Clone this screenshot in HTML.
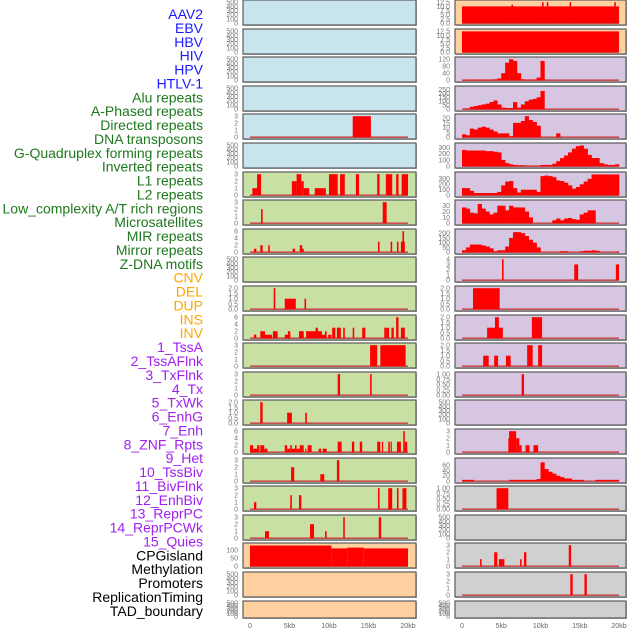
<!DOCTYPE html>
<html><head><meta charset="utf-8"><style>
html,body{margin:0;padding:0;background:#fff;width:630px;height:630px;overflow:hidden}
svg{display:block}
</style></head><body>
<svg id="chart" width="630" height="630" viewBox="0 0 630 630" xmlns="http://www.w3.org/2000/svg" font-family="Liberation Sans, sans-serif"></svg>
<script>
const trackNames = ["AAV2","EBV","HBV","HIV","HPV","HTLV-1","Alu repeats","A-Phased repeats","Directed repeats","DNA transposons","G-Quadruplex forming repeats","Inverted repeats","L1 repeats","L2 repeats","Low_complexity A/T rich regions","Microsatellites","MIR repeats","Mirror repeats","Z-DNA motifs","CNV","DEL","DUP","INS","INV","1_TssA","2_TssAFlnk","3_TxFlnk","4_Tx","5_TxWk","6_EnhG","7_Enh","8_ZNF_Rpts","9_Het","10_TssBiv","11_BivFlnk","12_EnhBiv","13_ReprPC","14_ReprPCWk","15_Quies","CPGisland","Methylation","Promoters","ReplicationTiming","TAD_boundary"];
const trackColors = ["#1a1aff","#1a1aff","#1a1aff","#1a1aff","#1a1aff","#1a1aff","#1e781e","#1e781e","#1e781e","#1e781e","#1e781e","#1e781e","#1e781e","#1e781e","#1e781e","#1e781e","#1e781e","#1e781e","#1e781e","#ffa500","#ffa500","#ffa500","#ffa500","#ffa500","#a020f0","#a020f0","#a020f0","#a020f0","#a020f0","#a020f0","#a020f0","#a020f0","#a020f0","#a020f0","#a020f0","#a020f0","#a020f0","#a020f0","#a020f0","#000","#000","#000","#000","#000"];
const xTickLabels = ["0","5kb","10kb","15kb","20kb"];
const xTickValues = [0,5,10,15,20];

const E = ["0","100","200","300","400","500"];
const T3 = ["0","1","2","3"];
const T6 = ["0","2","4","6"];
const T2 = ["0.0","0.5","1.0","1.5","2.0"];
const T1 = ["0.00","0.25","0.50","0.75","1.00"];
const T12 = ["0.0","2.5","5.0","7.5","10.0","12.5"];

const leftBg = ["#c8e4ec","#c8e4ec","#c8e4ec","#c8e4ec","#c8e4ec","#c8e4ec","#c8e0a4","#c8e0a4","#c8e0a4","#c8e0a4","#c8e0a4","#c8e0a4","#c8e0a4","#c8e0a4","#c8e0a4","#c8e0a4","#c8e0a4","#c8e0a4","#c8e0a4","#ffd0a0","#ffd0a0","#ffd0a0"];
const rightBg = ["#ffd0a0","#ffd0a0","#d6c6e2","#d6c6e2","#d6c6e2","#d6c6e2","#d6c6e2","#d6c6e2","#d6c6e2","#d6c6e2","#d6c6e2","#d6c6e2","#d6c6e2","#d6c6e2","#d6c6e2","#d6c6e2","#d6c6e2","#d0d0d0","#d0d0d0","#d0d0d0","#d0d0d0","#d0d0d0"];

const leftTicks = [E,E,E,E,T3,E,T3,T3,T6,E,T2,T6,T3,T3,T2,T6,T3,T3,T3,["0","50","100"],E,E];
const rightTicks = [T12,T12,["0","40","80","120"],["0","50","100","150","200","250"],["0","5","10","15","20"],["0","100","200","300"],["0","100","200","300"],["0","10","20","30"],["0","50","100","150","200"],["0","1","2","3","4"],T2,T2,T2,T1,E,T3,["0","20","40","60"],T1,E,T3,T3,E];
const leftYMax = [500,500,500,500,3,500,3,3,6,500,2,6,3,3,2,6,3,3,3,130,500,500];
const rightYMax = [12.5,12.5,120,265,22,335,385,36,220,4,2,2,2,1,500,3,78,1,500,3,3,500];

// segments: [startKb, endKb, value]
const leftSegs = [null,null,null,null,
 [[13.0,15.3,3]],
 null,
 [[0.3,1.0,1],[0.9,1.4,3],[5.3,5.9,2],[5.9,6.5,3],[6.5,6.8,2],[6.8,7.5,1],[8.2,9.6,1],[10.0,11.1,3],[11.4,12.0,3],[13.4,13.8,3],[16.1,16.4,3],[17.2,18.0,3],[18.5,18.8,3],[19.2,20.0,3]],
 [[1.4,1.6,2],[16.8,17.3,3]],
 [[0.5,0.8,1],[1.3,1.6,2],[2.3,2.5,2],[5.4,5.7,1],[6.3,6.6,2],[6.5,6.8,1],[16.2,16.4,3],[17.8,18.0,3],[18.6,18.8,3],[19.1,19.6,3],[19.3,19.5,6]],
 null,
 [[3.0,3.2,2],[4.4,5.8,1],[6.9,7.1,1]],
 [[0.5,0.8,1],[1.3,1.9,2],[1.9,2.8,1],[2.9,3.5,2],[4.4,5.1,1],[4.8,5.1,2],[6.2,6.8,2],[7.1,8.6,2],[8.3,8.6,3],[8.6,9.1,2],[9.1,9.5,1],[9.5,9.7,2],[9.9,10.3,1],[10.4,10.8,3],[11.0,11.5,3],[11.8,12.0,3],[13.0,13.2,3],[14.2,14.6,3],[17.0,17.3,3],[17.3,17.6,3],[17.9,18.2,3],[18.5,18.8,6],[19.1,19.6,3]],
 [[15.2,16.1,3],[16.5,19.7,3]],
 [[11.1,11.4,3],[15.2,15.4,3]],
 [[1.3,1.6,2],[4.7,5.3,1],[7.0,7.2,1]],
 [[0,0.4,2],[0.4,1.0,1],[0.9,1.2,2],[1.3,1.8,2],[1.8,2.2,1],[4.4,4.7,2],[4.7,5.1,1],[5.1,5.3,2],[5.3,5.7,1],[5.7,5.9,2],[5.9,6.3,1],[6.3,6.6,2],[6.6,6.8,2],[7.0,7.1,1],[7.3,7.8,2],[8.7,9.0,1],[9.2,9.7,1],[11.1,11.6,3],[12.9,13.2,3],[13.9,14.2,3],[16.1,16.5,3],[16.7,16.8,3],[17.5,17.7,3],[17.8,17.9,3],[18.6,19.1,3],[19.6,19.9,3],[19.4,19.6,6]],
 [[5.2,5.6,2],[8.9,9.1,1],[9.1,9.4,1],[11.0,11.3,3]],
 [[0.5,0.8,1],[5.1,5.3,2],[6.2,6.5,2],[16.2,16.4,3],[17.5,18.0,3],[18.6,18.8,3],[19.3,19.8,3]],
 [[1.9,2.4,1],[7.6,8.1,2],[9.5,9.7,1],[11.8,12.0,3],[16.3,16.6,3]],
 [[0,10.3,128],[10.3,12.3,110],[12.3,14.4,115],[14.4,20,110]],
 null,null];

const rightSegs = [
 [[0,20,10],[6.3,6.5,11],[10.2,10.4,12.5],[10.8,11.0,12.5],[13.7,13.9,12.5],[19.4,19.6,12.5]],
 [[0,20,12.4]],
 null,null,null,null,null,null,null,
 [[5.1,5.3,4],[14.3,14.8,3],[19.6,20,3]],
 [[1.4,4.8,2]],
 [[3.2,5.2,1],[4.2,4.7,2],[8.9,10.2,2]],
 [[2.7,3.4,1],[4.1,4.6,1],[5.6,6.2,1],[8.3,9.0,2],[9.7,10.2,2]],
 [[7.6,7.9,1]],
 null,
 [[5.9,6.0,2],[6.0,6.9,3],[6.9,7.3,2],[7.3,7.6,1],[8.1,8.6,1],[9.1,9.7,1]],
 null,
 [[4.4,5.9,1]],
 null,
 [[2.3,2.5,1],[4.1,4.5,2],[4.7,5.4,1],[7.4,7.6,1],[7.9,8.2,2],[13.6,13.9,3]],
 [[13.8,14.1,3],[15.6,15.9,3]],
 null];

// binned histograms, 0.5kb bins
const binWidthKb = 0.5;
const hivBins = [2,2,3,3,3,3,3,3,5,10,40,100,120,110,40,5,3,3,4,15,110,0,0,0,0,0,0,0,0,0,0,0,0,0,0,0,0,0,0,0];
const hpvBins = [5,10,30,40,50,60,70,90,110,60,20,15,15,90,20,60,100,120,130,150,230,0,0,0,0,0,0,0,0,0,0,0,0,0,0,0,0,0,0,0];
const aluBins = [3,2,9,8,10,11,10,8,6,4,4,4,1,15,15,17,22,18,16,12,0,0,0,0,4,0,0,0,0,0,0,0,0,0,0,0,0,0,0,0];
const dnaBins = [260,250,250,250,250,250,240,240,230,220,100,50,30,20,15,15,10,5,5,5,20,20,20,40,80,130,170,220,280,320,330,280,180,130,130,50,30,20,20,30];
const gquadBins = [130,130,80,40,40,40,40,40,40,60,180,250,260,130,50,100,100,100,100,60,350,360,350,330,270,260,230,180,120,150,200,250,300,380,380,380,380,380,380,380];
const invBins = [27,25,18,17,33,25,20,15,18,30,30,22,30,27,27,27,20,10,0,0,0,0,0,5,8,5,8,9,7,6,15,18,22,22,0,0,0,0,0,0];
const microBins = [20,50,80,80,80,70,60,40,10,20,20,60,150,210,210,200,170,130,100,50,0,0,0,0,0,10,10,0,0,0,10,15,15,20,15,0,0,0,0,5];
const tssaBins = [5,5,5,0,0,0,0,0,0,0,0,0,5,5,5,5,5,5,5,8,70,45,35,28,20,15,10,10,5,5,5,0,0,0,5,5,5,5,5,5];
const rightBins = [null,null,hivBins,hpvBins,aluBins,dnaBins,gquadBins,invBins,microBins,null,null,null,null,null,null,null,tssaBins,null,null,null,null,null];

const svg = document.getElementById('chart');
const NS = "http://www.w3.org/2000/svg";
function mk(tag, attrs, parent){
  const el = document.createElementNS(NS, tag);
  for (const k in attrs) el.setAttribute(k, attrs[k]);
  (parent||svg).appendChild(el);
  return el;
}
const nRows = 22;
function rowTop(i){ return Math.round(i*28.6); }
function rowH(i){ return i === nRows-1 ? 17 : 25; }
const L = {x0:243, x1:416, k0:250, kpx:7.9};
const R = {x0:455, x1:626, k0:462, kpx:7.85};
function xScale(side, kb){ return side.k0 + kb*side.kpx; }
function yScale(i, v, ymax){ const b = rowTop(i)+rowH(i)-1.8; return b - Math.min(v,ymax)/ymax*(rowH(i)-4); }

// labels
trackNames.forEach((n, i) => {
  const t = mk('text', {x:203, y:19+i*13.88, 'text-anchor':'end', 'font-size':'14', fill:trackColors[i]});
  
  
  t.textContent = n;
});

function drawPanel(side, i, bg, ticks, ymax, segs, bins, tag){
  const g = mk('g', {});
  
  
  const top = rowTop(i), h = rowH(i);
  mk('rect', {x:side.x0+1, y:top+1, width:side.x1-side.x0, height:h, fill:'#b8b8b8'}, g);
  mk('rect', {x:side.x0, y:top, width:side.x1-side.x0, height:h, fill:bg, stroke:'#5a5a5a', 'stroke-width':1.2}, g);
  ticks.forEach(lbl => {
    const v = parseFloat(lbl);
    const t = mk('text', {x:side.x0-5, y:yScale(i,v,ymax)+2.4, 'text-anchor':'end', 'font-size':'7', fill:'#777'}, g);
    
    
    t.textContent = lbl;
  });
  const y0 = yScale(i,0,ymax);
  if (segs || bins) {
    const bl = mk('line', {x1:xScale(side,0), x2:xScale(side,20), y1:y0, y2:y0, stroke:'#c85050', 'stroke-width':1.6}, g);
    
    
  }
  if (segs) segs.forEach(s => {
    const x = xScale(side, s[0]), w = Math.max(1.2, xScale(side, s[1]) - x);
    const y = yScale(i, s[2], ymax);
    const r = mk('rect', {x:x, y:y, width:w, height:y0-y, fill:'#ff0000'}, g);
    
    
  });
  if (bins) bins.forEach((v, b) => {
    if (v <= 0) return;
    const x = xScale(side, b*binWidthKb), w = xScale(side, (b+1)*binWidthKb) - x + 0.3;
    const y = yScale(i, v, ymax);
    const r = mk('rect', {x:x, y:y, width:w, height:y0-y, fill:'#ff0000'}, g);
    
    
  });
}
for (let i=0;i<nRows;i++){
  drawPanel(L, i, leftBg[i], leftTicks[i], leftYMax[i], leftSegs[i], null, 'left');
  drawPanel(R, i, rightBg[i], rightTicks[i], rightYMax[i], rightSegs[i], rightBins[i], 'right');
}
[L,R].forEach((side, si) => {
  xTickValues.forEach((v, j) => {
    const t = mk('text', {x:xScale(side,v), y:628, 'text-anchor':'middle', 'font-size':'7', fill:'#666'});
    
    
    t.textContent = xTickLabels[j];
  });
});
</script>
</body></html>
